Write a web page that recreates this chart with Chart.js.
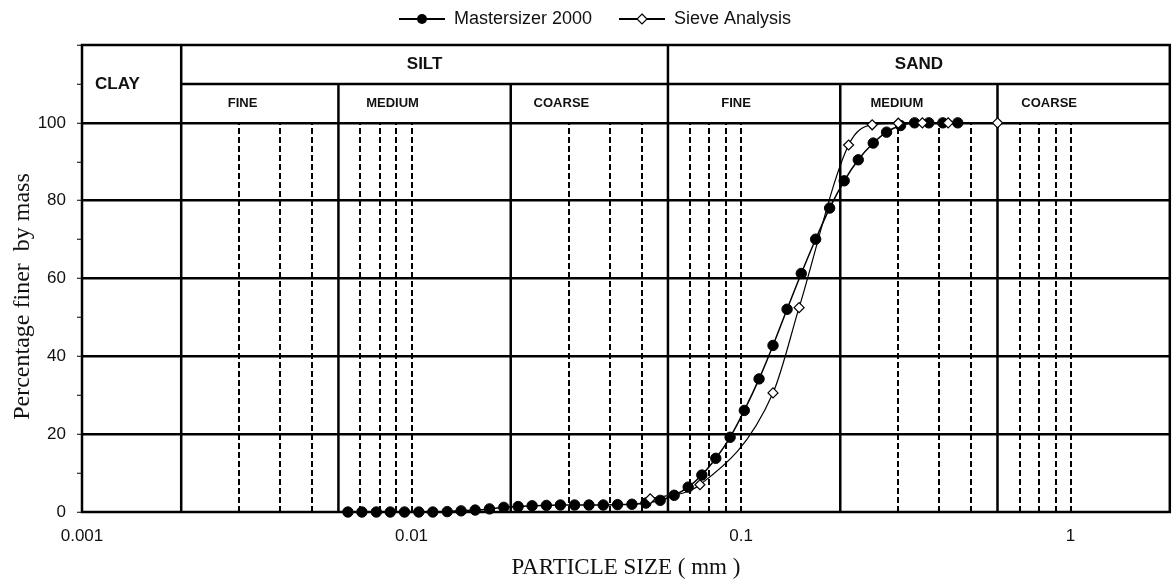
<!DOCTYPE html>
<html>
<head>
<meta charset="utf-8">
<script src="https://cdn.jsdelivr.net/npm/chart.js@4.4.1/dist/chart.umd.min.js"></script>
<style>
  html, body { margin: 0; padding: 0; background: #fff; }
  canvas { display: block; }
</style>
</head>
<body>
<canvas id="c" width="1176" height="583"></canvas>
<script>
// Mastersizer 2000 (laser diffraction), size in mm / % passing
const msSize = [0.00641, 0.00707, 0.00782, 0.00862, 0.00952, 0.01052, 0.0116, 0.01283, 0.01414, 0.0156,
  0.01724, 0.01905, 0.02106, 0.02322, 0.02566, 0.02829, 0.03125, 0.03455, 0.03818, 0.04219,
  0.04665, 0.05143, 0.05683, 0.06266, 0.0691, 0.07603, 0.08381, 0.09263, 0.1023, 0.1134,
  0.125, 0.1379, 0.1523, 0.1684, 0.1857, 0.2056, 0.2268, 0.2518, 0.2764, 0.3048,
  0.3361, 0.3713, 0.4094, 0.4546]
const msPassing = [0, 0, 0, 0, 0, 0, 0, 0.1, 0.3, 0.5,
  0.8, 1.2, 1.4, 1.6, 1.7, 1.8, 1.8, 1.8, 1.8, 1.9,
  2.0, 2.3, 3.0, 4.3, 6.4, 9.5, 13.8, 19.2, 26.1, 34.2,
  42.8, 52.1, 61.3, 70.1, 78.1, 85.1, 90.5, 94.8, 97.6, 99.3,
  100, 100, 100, 100]

// sieve analysis
const sieveSize = [0.053, 0.075, 0.125, 0.15, 0.212, 0.25, 0.3, 0.355, 0.425, 0.6]
const sievePassing = [3.4, 7.0, 30.6, 52.5, 94.3, 99.5, 99.9, 100, 100, 100]

const xTicks = [0.001, 0.01, 0.1, 1]
const yLabelled = [0, 20, 40, 60, 80, 100]

// classification boundaries (mm)
const majorBounds = [0.002, 0.06]
const minorBounds = [0.006, 0.02, 0.2, 0.6]
const dashedLines = [0.003, 0.004, 0.005, 0.007, 0.008, 0.009, 0.01, 0.03, 0.04, 0.05,
  0.07, 0.08, 0.09, 0.1, 0.3, 0.4, 0.5, 0.7, 0.8, 0.9, 1]
const mainLabels = ['CLAY', 'SILT', 'SAND']
const subLabels = ['FINE', 'MEDIUM', 'COARSE', 'FINE', 'MEDIUM', 'COARSE']
const subLabelAt = [0.00307, 0.00876, 0.0285, 0.0966, 0.297, 0.861]

const sans = '"Liberation Sans", Arial, sans-serif'
const serif = '"Liberation Serif", "Times New Roman", serif'

const legendIcon = (filled) => {
  const c = document.createElement('canvas')
  c.width = 63
  c.height = 14
  const g = c.getContext('2d')
  g.strokeStyle = '#000'
  g.lineWidth = 2
  g.beginPath(); g.moveTo(17, 7); g.lineTo(63, 7); g.stroke()
  g.lineWidth = 1.2
  if (filled) {
    g.fillStyle = '#000'
    g.beginPath(); g.arc(40, 7, 5, 0, Math.PI * 2); g.fill()
  } else {
    g.fillStyle = '#fff'
    g.beginPath(); g.moveTo(40, 2); g.lineTo(45, 7); g.lineTo(40, 12); g.lineTo(35, 7); g.closePath()
    g.fill(); g.stroke()
  }
  return c
}
const icons = [legendIcon(true), legendIcon(false)]

// leave a little more room under the legend
const legendGap = {
  id: 'legendGap',
  beforeLayout(chart) {
    const lg = chart.legend
    if (lg && !lg._gapped) {
      const fit = lg.fit.bind(lg)
      lg.fit = function () { fit(); this.height += 7 }
      lg._gapped = true
    }
  }
}

const sizeClasses = {
  id: 'sizeClasses',
  beforeDatasetsDraw(chart) {
    const {ctx, chartArea: a, scales: {x, y}} = chart
    const y0 = y.getPixelForValue(0)
    const y100 = y.getPixelForValue(100)
    const y110 = y.getPixelForValue(110)
    ctx.save()
    ctx.strokeStyle = '#000'

    ctx.lineWidth = 2
    ctx.setLineDash([6, 3])
    dashedLines.forEach(v => {
      const px = Math.round(x.getPixelForValue(v))
      ctx.beginPath(); ctx.moveTo(px, y0); ctx.lineTo(px, y100); ctx.stroke()
    })
    ctx.setLineDash([])

    ctx.lineWidth = 2.5
    minorBounds.forEach(v => {
      const px = x.getPixelForValue(v)
      ctx.beginPath(); ctx.moveTo(px, y0); ctx.lineTo(px, y110); ctx.stroke()
    })
    majorBounds.forEach(v => {
      const px = x.getPixelForValue(v)
      ctx.beginPath(); ctx.moveTo(px, y0); ctx.lineTo(px, a.top); ctx.stroke()
    })
    ctx.beginPath()
    ctx.moveTo(x.getPixelForValue(majorBounds[0]), y110)
    ctx.lineTo(a.right, y110)
    ctx.stroke()
    ctx.strokeRect(a.left, a.top, a.right - a.left, a.bottom - a.top)

    ctx.fillStyle = '#111'
    ctx.textBaseline = 'middle'
    ctx.font = 'bold 17px ' + sans
    ctx.textAlign = 'left'
    ctx.fillText(mainLabels[0], a.left + 13, y110)
    ctx.textAlign = 'center'
    const silt = Math.sqrt(majorBounds[0] * majorBounds[1])
    const sand = Math.sqrt(majorBounds[1] * x.max)
    ctx.fillText(mainLabels[1], x.getPixelForValue(silt), y.getPixelForValue(115))
    ctx.fillText(mainLabels[2], x.getPixelForValue(sand), y.getPixelForValue(115))
    ctx.font = 'bold 13px ' + sans
    subLabels.forEach((t, i) => {
      ctx.fillText(t, x.getPixelForValue(subLabelAt[i]), y.getPixelForValue(105))
    })
    ctx.restore()
  }
}

new Chart(document.getElementById('c'), {
  type: 'line',
  data: {
    datasets: [{
      label: 'Mastersizer 2000',
      data: msSize.map((s, i) => ({x: s, y: msPassing[i]})),
      borderColor: '#000',
      borderWidth: 1.5,
      pointStyle: 'circle',
      pointRadius: 5.2,
      pointBackgroundColor: '#000',
      pointBorderColor: '#000',
      pointBorderWidth: 1,
      cubicInterpolationMode: 'monotone',
      clip: false,
      order: 2
    }, {
      label: 'Sieve Analysis',
      data: sieveSize.map((s, i) => ({x: s, y: sievePassing[i]})),
      borderColor: '#000',
      borderWidth: 1.2,
      pointStyle: 'rectRot',
      pointRadius: 5,
      pointBackgroundColor: '#fff',
      pointBorderColor: '#000',
      pointBorderWidth: 1.2,
      cubicInterpolationMode: 'monotone',
      clip: false,
      order: 1
    }]
  },
  options: {
    responsive: false,
    animation: false,
    layout: { padding: { top: 0, right: 3, left: 0, bottom: 0 } },
    plugins: {
      tooltip: { enabled: false },
      legend: {
        position: 'top',
        labels: {
          usePointStyle: true,
          pointStyleWidth: 63,
          padding: 10,
          color: '#111',
          font: { family: sans, size: 18 },
          generateLabels: chart => chart.data.datasets.map((d, i) => ({
            text: d.label,
            pointStyle: icons[i],
            datasetIndex: i,
            lineWidth: 0,
            fontColor: '#111'
          }))
        }
      }
    },
    scales: {
      x: {
        type: 'logarithmic',
        min: 0.001,
        max: 2,
        afterBuildTicks: s => { s.ticks = xTicks.map(v => ({value: v})) },
        afterFit: s => { s.height = 71 },
        grid: { drawOnChartArea: false, drawTicks: false },
        border: { display: false },
        ticks: {
          autoSkip: false,
          maxRotation: 0,
          padding: 14,
          color: '#111',
          font: { family: sans, size: 17 },
          callback: v => String(v)
        },
        title: {
          display: true,
          text: 'PARTICLE SIZE ( mm )',
          color: '#111',
          font: { family: serif, size: 23 },
          padding: { top: 0, bottom: 1 }
        }
      },
      y: {
        min: 0,
        max: 120,
        afterFit: s => { s.width = 82 },
        border: { display: false },
        grid: {
          color: c => (c.tick && c.tick.value > 0 && c.tick.value <= 100 && c.tick.value % 20 === 0) ? '#000' : 'rgba(0,0,0,0)',
          lineWidth: 2.5,
          tickColor: '#000',
          tickWidth: 1,
          tickLength: 5
        },
        ticks: {
          stepSize: 10,
          padding: 11,
          color: '#111',
          font: { family: sans, size: 17 },
          callback: v => yLabelled.includes(v) ? String(v) : ''
        },
        title: {
          display: true,
          text: 'Percentage finer  by mass      ',
          color: '#111',
          font: { family: serif, size: 24 },
          padding: { top: 8, bottom: 0 }
        }
      }
    }
  },
  plugins: [legendGap, sizeClasses]
})
</script>
</body>
</html>
